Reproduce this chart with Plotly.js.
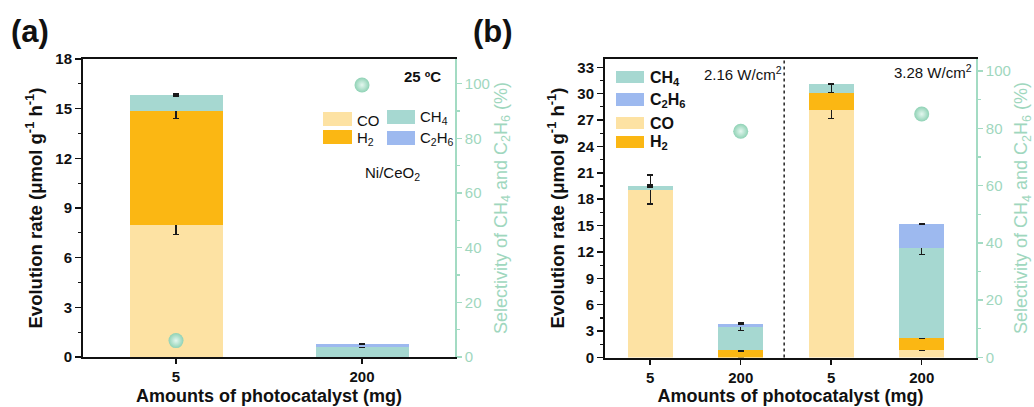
<!DOCTYPE html>
<html>
<head>
<meta charset="utf-8">
<script src="https://cdn.plot.ly/plotly-3.0.1.min.js"></script>
<style>
  html, body { margin: 0; padding: 0; background: #fff; }
  #chart { width: 1034px; height: 407px; }
</style>
</head>
<body>
<div id="chart"></div>
<script>
// ---- Panel (a): 25 ºC, Ni/CeO2 ----
const amountsA = ['5', '200'];
const coA   = [8.0, 0];
const h2A   = [6.85, 0];
const ch4A  = [0.97, 0.62];
const c2h6A = [0, 0.16];
const coErrA   = [0.6, null];
const h2ErrA   = [0.45, null];
const ch4ErrA  = [0.1, 0.04];
const c2h6ErrA = [null, null];
const selA = [6, 99.5];

// ---- Panel (b): two light intensities ----
const amountsB = ['5', '200', '5', '200'];
const coB   = [19.1, 0, 28.1, 0.9];
const h2B   = [0, 0.8, 2.0, 1.3];
const ch4B  = [0.4, 2.7, 0.95, 10.2];
const c2h6B = [0, 0.3, 0, 2.75];
const coErrB   = [1.65, null, 0.9, 0.05];
const h2ErrB   = [null, 0.05, null, 0.05];
const ch4ErrPlusB  = [0.2, 0.45, 0.05, 0.7];
const ch4ErrMinusB = [0.2, 0.45, 0.95, 0.7];
const c2h6ErrB = [null, 0.05, null, 0.05];
const selB = [null, 79, null, 85];
const intensityLabels = ['2.16 W/cm<sup>2</sup>', '3.28 W/cm<sup>2</sup>'];

const COLORS = {
  co: '#fde2a3',
  h2: '#fbb713',
  ch4: '#a6d8d1',
  c2h6: '#9db9ef',
  sel: '#a3dbc3',
  selText: '#9fd7be'
};

const W = 1034, H = 407;
const px = v => v / W;
const py = v => 1 - v / H;

const idxA = amountsA.map((_, i) => i);
const idxB = amountsB.map((_, i) => i);

function errBar(arr, minus) {
  const e = { type: 'data', array: arr, visible: true, color: '#1a1a1a', thickness: 1.3, width: 3 };
  if (minus) { e.symmetric = false; e.arrayminus = minus; }
  return e;
}

function barTrace(x, y, color, err, xa, ya, minus) {
  return {
    type: 'bar', x: x, y: y, xaxis: xa, yaxis: ya,
    width: 0.5,
    marker: { color: color, line: { width: 0 } },
    error_y: errBar(err, minus),
    hoverinfo: 'skip'
  };
}

// selectivity drawn as shaded balls: darker rim, light centre
function selTrace(x, y, xa, ya) {
  return {
    type: 'scatter', mode: 'markers', x: x, y: y, xaxis: xa, yaxis: ya,
    marker: {
      size: 15, color: '#8fd2b5',
      gradient: { type: 'radial', color: '#e4f7ef' },
      line: { width: 0 }
    },
    hoverinfo: 'skip'
  };
}

const data = [
  barTrace(idxA, coA, COLORS.co, coErrA, 'x', 'y'),
  barTrace(idxA, h2A, COLORS.h2, h2ErrA, 'x', 'y'),
  barTrace(idxA, ch4A, COLORS.ch4, ch4ErrA, 'x', 'y'),
  barTrace(idxA, c2h6A, COLORS.c2h6, c2h6ErrA, 'x', 'y'),
  selTrace(idxA, selA, 'x', 'y2'),

  barTrace(idxB, coB, COLORS.co, coErrB, 'x2', 'y3'),
  barTrace(idxB, h2B, COLORS.h2, h2ErrB, 'x2', 'y3'),
  barTrace(idxB, ch4B, COLORS.ch4, ch4ErrPlusB, 'x2', 'y3', ch4ErrMinusB),
  barTrace(idxB, c2h6B, COLORS.c2h6, c2h6ErrB, 'x2', 'y3'),
  selTrace(idxB, selB, 'x2', 'y4')
];

const FONT = 'Liberation Sans, Arial, sans-serif';
const tickFontBold = { family: FONT, size: 15, color: '#111', weight: 'bold' };
const tickFontGreen = { family: FONT, size: 15, color: COLORS.selText };
const xTitleFont = { family: FONT, size: 18, color: '#111', weight: 'bold' };
const yTitleFont = { family: FONT, size: 18.5, color: '#111', weight: 'bold' };
const titleFontGreen = { family: FONT, size: 18, color: COLORS.selText };

const xTitle = 'Amounts of photocatalyst (mg)';
const yTitle = 'Evolution rate (μmol g<sup>-1</sup> h<sup>-1</sup>)';
const y2Title = 'Selectivity of CH<sub>4</sub> and C<sub>2</sub>H<sub>6</sub> (%)';

function xAxis(domain, range, tickvals, ticktext, anchor) {
  return {
    domain: domain, range: range, anchor: anchor,
    tickvals: tickvals, ticktext: ticktext,
    showline: true, linecolor: '#111', linewidth: 2, mirror: true,
    ticks: 'outside', ticklen: 5, tickwidth: 1.5, tickcolor: '#111',
    showgrid: false, zeroline: false, fixedrange: true,
    tickfont: tickFontBold,
    title: { text: xTitle, font: xTitleFont, standoff: 5 }
  };
}

function yLeft(domain, range, dtick, anchor, standoff) {
  return {
    domain: domain, range: range, anchor: anchor, dtick: dtick, tick0: 0,
    showline: true, linecolor: '#111', linewidth: 2,
    ticks: 'outside', ticklen: 6, tickwidth: 1.5, tickcolor: '#111',
    minor: { dtick: dtick / 2, ticks: 'outside', ticklen: 3, tickwidth: 1.2, tickcolor: '#111' },
    showgrid: false, zeroline: false, fixedrange: true,
    tickfont: tickFontBold,
    title: { text: yTitle, font: yTitleFont, standoff: standoff }
  };
}

function yRight(range, overlay, anchor, standoff) {
  return {
    range: range, overlaying: overlay, anchor: anchor, side: 'right',
    dtick: 20, tick0: 0,
    showline: true, linecolor: COLORS.sel, linewidth: 1.8,
    ticks: 'outside', ticklen: 5, tickwidth: 1.5, tickcolor: COLORS.sel,
    minor: { dtick: 10, ticks: 'outside', ticklen: 3, tickwidth: 1.2, tickcolor: COLORS.sel },
    showgrid: false, zeroline: false, fixedrange: true,
    tickfont: tickFontGreen,
    title: { text: y2Title, font: titleFontGreen, standoff: standoff }
  };
}

// legend swatches drawn as paper-space rectangles
function swatch(x0, y0, x1, y1, color) {
  return {
    type: 'rect', xref: 'paper', yref: 'paper',
    x0: px(x0), x1: px(x1), y0: py(y1), y1: py(y0),
    fillcolor: color, line: { width: 0 }, layer: 'above'
  };
}

function label(text, x, y, opts) {
  return Object.assign({
    text: text, xref: 'paper', yref: 'paper', x: px(x), y: py(y),
    xanchor: 'left', yanchor: 'middle', showarrow: false,
    font: { family: FONT, size: 15, color: '#111' }
  }, opts || {});
}

const shapes = [
  // panel (a) legend, two columns
  swatch(323, 112, 352, 126, COLORS.co),
  swatch(323, 130, 352, 144, COLORS.h2),
  swatch(387, 110, 415, 124, COLORS.ch4),
  swatch(387, 131, 415, 145, COLORS.c2h6),
  // panel (b) legend, one column
  swatch(616, 71, 644, 83, COLORS.ch4),
  swatch(616, 93, 644, 106, COLORS.c2h6),
  swatch(616, 117, 644, 129, COLORS.co),
  swatch(616, 136, 644, 148, COLORS.h2),
  // separator between the two intensities
  {
    type: 'line', xref: 'x2', yref: 'paper',
    x0: 1.48, x1: 1.48, y0: py(357.5), y1: py(58.5),
    line: { color: '#222', width: 1.5, dash: 'dot' }
  }
];

const bold16 = { family: FONT, size: 16, color: '#111', weight: 'bold' };

const annotations = [
  label('<b>(a)</b>', 30, 32, { xanchor: 'center', font: { family: FONT, size: 31, color: '#111' } }),
  label('<b>(b)</b>', 493, 32, { xanchor: 'center', font: { family: FONT, size: 31, color: '#111' } }),
  label('<b>25 ºC</b>', 402, 76),
  label('Ni/CeO<sub>2</sub>', 363, 173),
  label('CO', 355, 120),
  label('H<sub>2</sub>', 355, 138),
  label('CH<sub>4</sub>', 418, 117),
  label('C<sub>2</sub>H<sub>6</sub>', 418, 138),
  label('CH<sub>4</sub>', 648, 78, { font: bold16 }),
  label('C<sub>2</sub>H<sub>6</sub>', 648, 100, { font: bold16 }),
  label('CO', 648, 123, { font: bold16 }),
  label('H<sub>2</sub>', 648, 143, { font: bold16 }),
  label(intensityLabels[0], 702, 73),
  label(intensityLabels[1], 892, 71)
];

const layout = {
  width: W, height: H,
  margin: { l: 0, r: 0, t: 0, b: 0 },
  paper_bgcolor: '#fff', plot_bgcolor: 'rgba(0,0,0,0)',
  barmode: 'stack',
  showlegend: false,
  font: { family: FONT, color: '#111' },
  xaxis: xAxis([px(83), px(455)], [-0.5, 1.5], idxA, amountsA, 'y'),
  yaxis: yLeft([1 - 357 / H, 1 - 59 / H], [0, 18], 3, 'x', 8),
  yaxis2: yRight([0, 109], 'y', 'x', 5),
  xaxis2: xAxis([px(605), px(976)], [-0.5, 3.6], idxB, amountsB, 'y3'),
  yaxis3: yLeft([1 - 357.5 / H, 1 - 58.5 / H], [0, 34], 3, 'x2', 8),
  yaxis4: yRight([0, 104.4], 'y3', 'x2', 5),
  shapes: shapes,
  annotations: annotations
};

Plotly.newPlot('chart', data, layout, { displayModeBar: false, staticPlot: true });
</script>
</body>
</html>
